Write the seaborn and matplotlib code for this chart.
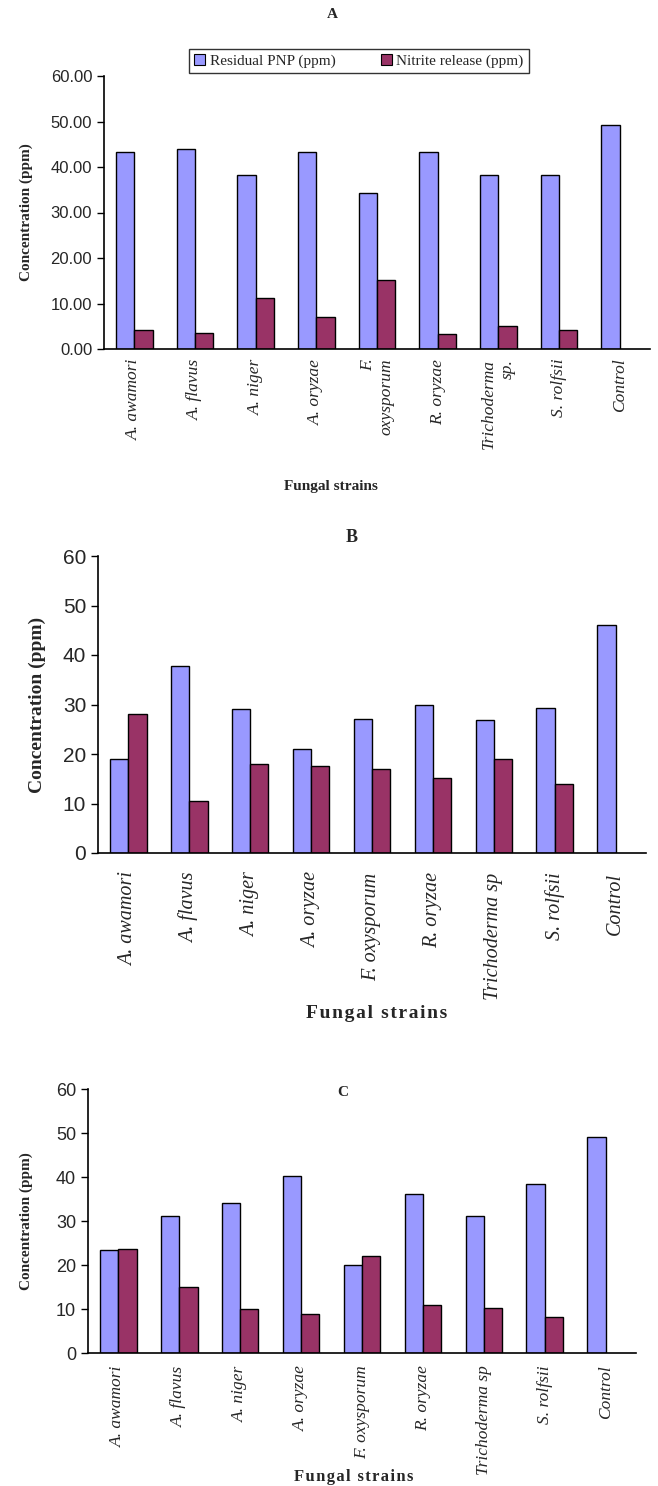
import numpy as np
import pandas as pd
import matplotlib
matplotlib.use("Agg")
import matplotlib.pyplot as plt
import seaborn as sns

# Fungal strains (x categories)
strains = ["A. awamori", "A. flavus", "A. niger", "A. oryzae", "F. oxysporum",
           "R. oryzae", "Trichoderma sp", "S. rolfsii", "Control"]
labels_a = ["A. awamori", "A. flavus", "A. niger", "A. oryzae", "F.\noxysporum",
            "R. oryzae", "Trichoderma\nsp.", "S. rolfsii", "Control"]
series = ["Residual PNP (ppm)", "Nitrite release (ppm)"]

# Panel A values
pnp_a = [43.2, 43.9, 38.2, 43.2, 34.2, 43.2, 38.2, 38.2, 49.2]
nitrite_a = [4.1, 3.5, 11.3, 7.0, 15.1, 3.2, 5.0, 4.1, np.nan]

# Panel B values
pnp_b = [19.0, 37.8, 29.1, 21.0, 27.0, 30.0, 26.8, 29.2, 46.1]
nitrite_b = [28.1, 10.5, 17.9, 17.5, 16.9, 15.1, 19.0, 14.0, np.nan]

# Panel C values
pnp_c = [23.4, 31.1, 34.1, 40.2, 20.0, 36.1, 31.2, 38.3, 49.0]
nitrite_c = [23.7, 15.0, 10.1, 8.8, 22.0, 11.0, 10.3, 8.1, np.nan]

BLUE = "#9999FF"
MAROON = "#993366"
SERIF = "Liberation Serif"
SANS = "Liberation Sans"

sns.set_style("white")
plt.rcParams["font.family"] = [SANS, "DejaVu Sans"]


def make_df(pnp, nitrite):
    return pd.DataFrame({
        "strain": strains * 2,
        "value": list(pnp) + list(nitrite),
        "series": [series[0]] * len(strains) + [series[1]] * len(strains),
    })


def draw_panel(ax, pnp, nitrite, xlabels, ytick_fmt, ytick_size, xtick_size,
               ylab_size, xpad):
    df = make_df(pnp, nitrite)
    sns.barplot(data=df, x="strain", y="value", hue="series", order=strains,
                hue_order=series, palette=[BLUE, MAROON], saturation=1,
                edgecolor="black", linewidth=1.0, width=0.6, gap=0,
                errorbar=None, ax=ax, legend=False)
    ax.set_ylim(0, 60)
    ax.set_xlim(-0.5, len(strains) - 0.5)
    ax.set_yticks(np.arange(0, 61, 10))
    ax.set_yticklabels([ytick_fmt % v for v in np.arange(0, 61, 10)],
                       fontsize=ytick_size, family=SANS)
    ax.set_xticks(np.arange(len(strains)))
    ax.set_xticklabels(xlabels, rotation=90, fontsize=xtick_size, family=SERIF,
                       style="italic", va="top", ha="center", multialignment="right")
    ax.set_xticks(np.arange(-0.5, len(strains), 1), minor=True)
    ax.tick_params(axis="x", which="major", length=0, pad=xpad)
    ax.tick_params(axis="x", which="minor", length=5, width=1, direction="out", color="black")
    ax.tick_params(axis="y", length=5, width=1, direction="out", color="black", left=True)
    for s in ["top", "right"]:
        ax.spines[s].set_visible(False)
    for s in ["left", "bottom"]:
        ax.spines[s].set_color("black")
        ax.spines[s].set_linewidth(1.2)
    ax.set_xlabel("")
    ax.set_ylabel("Concentration (ppm)", family=SERIF, fontweight="bold",
                  fontsize=ylab_size)


W, H = 658, 1486
fig = plt.figure(figsize=(W / 100, H / 100), dpi=100)


def ax_box(left, top, right, bottom):
    return [left / W, 1 - bottom / H, (right - left) / W, (bottom - top) / H]


def spaced(text, sep):
    return sep.join(text)


# Panel A
ax_a = fig.add_axes(ax_box(104, 76, 650, 349))
draw_panel(ax_a, pnp_a, nitrite_a, labels_a, "%.2f", 12, 12.5, 11, 7)
ax_a.yaxis.set_label_coords(-0.13, 0.5)
fig.text(332 / W, 1 - 15 / H, "A", family=SERIF, fontweight="bold", fontsize=11,
         ha="center", va="center")
fig.text(331 / W, 1 - 486 / H, "Fungal strains", family=SERIF, fontweight="bold",
         fontsize=11, ha="center", va="center")
handles = [plt.Rectangle((0, 0), 1, 1, facecolor=c, edgecolor="black", linewidth=0.8)
           for c in [BLUE, MAROON]]
leg = fig.legend(handles, ["Residual PNP (ppm)", "Nitrite release (ppm)"], ncol=2,
                 loc="center", bbox_to_anchor=(359 / W, 1 - 61 / H),
                 prop={"family": SERIF, "size": 11}, frameon=True, fancybox=False,
                 handlelength=0.7, handleheight=0.7, handletextpad=0.3,
                 columnspacing=3.0, borderpad=0.35, borderaxespad=0)
leg.get_frame().set_edgecolor("black")
leg.get_frame().set_linewidth(1.0)

# Panel B
ax_b = fig.add_axes(ax_box(98, 556, 646, 853))
draw_panel(ax_b, pnp_b, nitrite_b, strains, "%d", 15, 14.5, 14, 14)
ax_b.yaxis.set_label_coords(-0.095, 0.5)
fig.text(352 / W, 1 - 538 / H, "B", family=SERIF, fontweight="bold", fontsize=13,
         ha="center", va="center")
fig.text(377 / W, 1 - 1013 / H, spaced("Fungal strains", "\u200a"),
         family=[SERIF, "DejaVu Serif"], fontweight="bold", fontsize=14,
         ha="center", va="center")

# Panel C
ax_c = fig.add_axes(ax_box(88, 1089, 636, 1353))
draw_panel(ax_c, pnp_c, nitrite_c, strains, "%d", 13, 12.5, 11, 9)
ax_c.yaxis.set_label_coords(-0.1, 0.5)
fig.text(343 / W, 1 - 1093 / H, "C", family=SERIF, fontweight="bold", fontsize=11,
         ha="center", va="center")
fig.text(354 / W, 1 - 1477 / H, spaced("Fungal strains", "\u200a"),
         family=[SERIF, "DejaVu Serif"], fontweight="bold", fontsize=12,
         ha="center", va="center")

fig.savefig("out.png", dpi=100, facecolor="white")
